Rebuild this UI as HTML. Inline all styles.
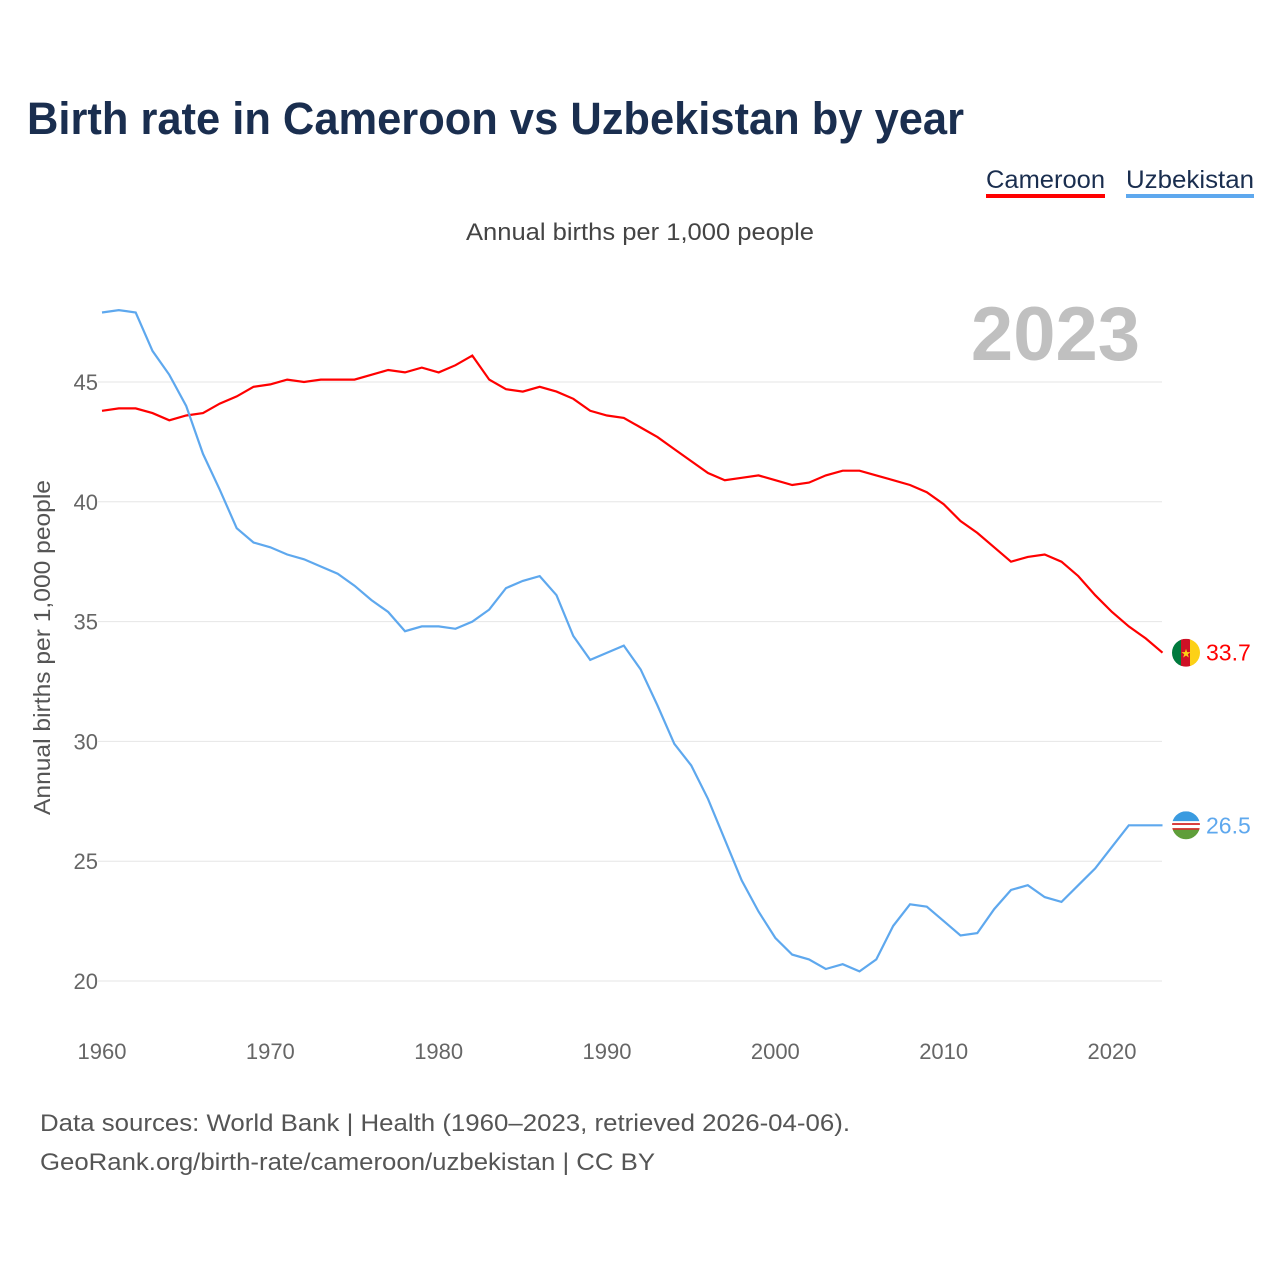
<!DOCTYPE html>
<html><head><meta charset="utf-8">
<style>
body{margin:0;background:#fff;font-family:"Liberation Sans",sans-serif}
#wrap{position:relative;width:1280px;height:1280px;overflow:hidden}
</style></head>
<body>
<div id="wrap">
<svg id="chart" width="1280" height="1280" xmlns="http://www.w3.org/2000/svg">
<text x="27" y="134" font-size="45" font-weight="bold" fill="#1a2e4f" textLength="937" lengthAdjust="spacingAndGlyphs">Birth rate in Cameroon vs Uzbekistan by year</text>
<g><text x="986" y="188" font-size="25" fill="#1a2e4f" textLength="119" lengthAdjust="spacingAndGlyphs">Cameroon</text><rect x="986" y="194" width="119" height="4" fill="#ff0000"/></g>
<g><text x="1126" y="188" font-size="25" fill="#1a2e4f" textLength="128" lengthAdjust="spacingAndGlyphs">Uzbekistan</text><rect x="1126" y="194" width="128" height="4" fill="#5ea8ee"/></g>
<text x="466" y="240" font-size="24" fill="#444" textLength="348" lengthAdjust="spacingAndGlyphs">Annual births per 1,000 people</text>
<text x="1140" y="360" font-size="76" font-weight="bold" fill="#c0c0c0" text-anchor="end">2023</text>
<text transform="translate(50,815) rotate(-90)" font-size="23" fill="#555" textLength="335" lengthAdjust="spacingAndGlyphs">Annual births per 1,000 people</text>
<g id="grid"></g><g id="xt"></g><g id="lines"></g>
<text x="40" y="1131" font-size="24" fill="#555" textLength="810" lengthAdjust="spacingAndGlyphs">Data sources: World Bank | Health (1960–2023, retrieved 2026-04-06).</text>
<text x="40" y="1170" font-size="24" fill="#555" textLength="615" lengthAdjust="spacingAndGlyphs">GeoRank.org/birth-rate/cameroon/uzbekistan | CC BY</text>
</svg>
</div>
<script>
const years=[];for(let y=1960;y<=2023;y++)years.push(y);
const cameroon=[43.8,43.9,43.9,43.7,43.4,43.6,43.7,44.1,44.4,44.8,44.9,45.1,45.0,45.1,45.1,45.1,45.3,45.5,45.4,45.6,45.4,45.7,46.1,45.1,44.7,44.6,44.8,44.6,44.3,43.8,43.6,43.5,43.1,42.7,42.2,41.7,41.2,40.9,41.0,41.1,40.9,40.7,40.8,41.1,41.3,41.3,41.1,40.9,40.7,40.4,39.9,39.2,38.7,38.1,37.5,37.7,37.8,37.5,36.9,36.1,35.4,34.8,34.3,33.7];
const uzbekistan=[47.9,48.0,47.9,46.3,45.3,44.0,42.0,40.5,38.9,38.3,38.1,37.8,37.6,37.3,37.0,36.5,35.9,35.4,34.6,34.8,34.8,34.7,35.0,35.5,36.4,36.7,36.9,36.1,34.4,33.4,33.7,34.0,33.0,31.5,29.9,29.0,27.6,25.9,24.2,22.9,21.8,21.1,20.9,20.5,20.7,20.4,20.9,22.3,23.2,23.1,22.5,21.9,22.0,23.0,23.8,24.0,23.5,23.3,24.0,24.7,25.6,26.5,26.5,26.5];
const yTicks=[20,25,30,35,40,45];
const xTicks=[1960,1970,1980,1990,2000,2010,2020];
const X=y=>102+(y-1960)*(1010/60);
const Y=v=>382+(45-v)*(599/25);
const NS="http://www.w3.org/2000/svg";
function mk(t,a,p){const e=document.createElementNS(NS,t);for(const k in a)e.setAttribute(k,a[k]);p.appendChild(e);return e;}
const grid=document.getElementById('grid');
yTicks.forEach(v=>{
 const l=mk('line',{x1:98,x2:1162,y1:Y(v),y2:Y(v),stroke:'#e6e6e6','stroke-width':1},grid);
 
 
 const t=mk('text',{x:98,y:Y(v)+8,'font-size':22,fill:'#666','text-anchor':'end'},grid);t.textContent=v;
 
 
});
const xt=document.getElementById('xt');
xTicks.forEach(v=>{
 const t=mk('text',{x:X(v),y:1059,'font-size':22,fill:'#666','text-anchor':'middle'},xt);t.textContent=v;
 
 
});
const lines=document.getElementById('lines');
function series(d,c,name){
 const p=mk('path',{d:d.map((v,i)=>(i?'L':'M')+X(years[i]).toFixed(1)+','+Y(v).toFixed(1)).join(''),fill:'none',stroke:c,'stroke-width':2.2},lines);
 
 
 const last=d[d.length-1];
 const cx=1186,cy=Y(last);
 const g=mk('g',{},lines);
 
 
 if(name==='cameroon'){
  mk('rect',{x:cx-14,y:cy-14,width:10,height:28,fill:'#007a3d'},g);
  mk('rect',{x:cx-5,y:cy-14,width:10,height:28,fill:'#ce1126'},g);
  mk('rect',{x:cx+4,y:cy-14,width:10,height:28,fill:'#fcd116'},g);
  mk('text',{x:cx,y:cy+5,'font-size':12,fill:'#fcd116','text-anchor':'middle'},g).textContent='★';
 }else{
  mk('rect',{x:cx-14,y:cy-14,width:28,height:10,fill:'#3a9be0'},g);
  mk('rect',{x:cx-14,y:cy-4,width:28,height:8,fill:'#fff'},g);
  mk('rect',{x:cx-14,y:cy-2,width:28,height:1.5,fill:'#c00'},g);
  mk('rect',{x:cx-14,y:cy+3,width:28,height:1.5,fill:'#c00'},g);
  mk('rect',{x:cx-14,y:cy+4.5,width:28,height:10,fill:'#5f9e3a'},g);
 }
 const cp=mk('clipPath',{id:'c'+name},lines);mk('circle',{cx:cx,cy:cy,r:14},cp);
 g.setAttribute('clip-path','url(#c'+name+')');
 const t=mk('text',{x:1206,y:cy+8,'font-size':23,fill:c},lines);t.textContent=last.toFixed(1);
 
 
}
series(cameroon,'#ff0000','cameroon');
series(uzbekistan,'#5ea8ee','uzbekistan');
</script>
</body></html>
